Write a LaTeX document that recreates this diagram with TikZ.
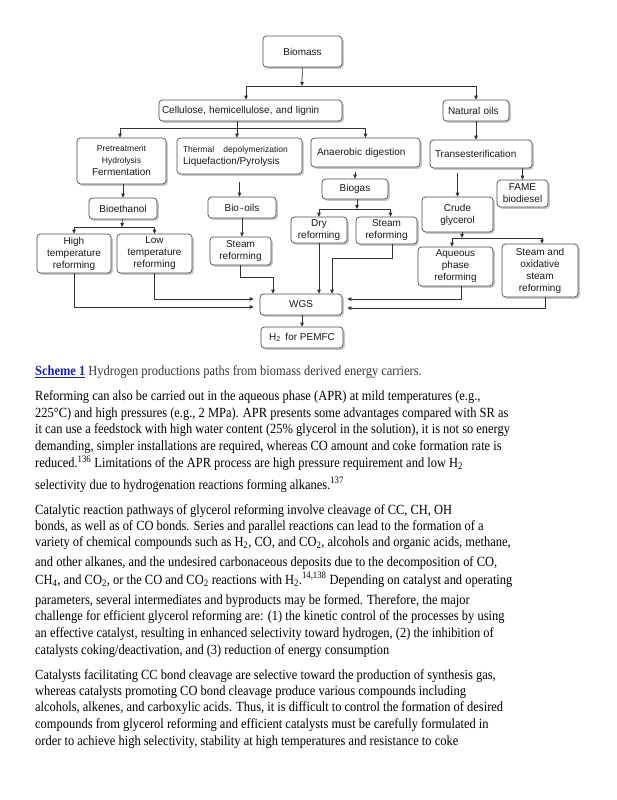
\documentclass[tikz,border=0pt]{standalone}
\usepackage{fontspec}
\setmainfont{Liberation Serif}[FakeStretch=0.89]
\newfontfamily\diagfont{Liberation Sans}
\usetikzlibrary{arrows.meta,shadows}
\definecolor{linkblue}{RGB}{16,32,208}
\definecolor{capgray}{RGB}{60,60,60}
\newcommand\diagsmall{\diagfont\fontsize{8.5}{10.5}\selectfont}
\newcommand\diagnorm{\diagfont\fontsize{10}{12}\selectfont}

\begin{document}
\begin{tikzpicture}[x=1pt,y=-1pt,
  box/.style={draw=black!70, fill=white, rounded corners=3.5pt, line width=0.7pt,
    drop shadow={shadow xshift=1.8pt, shadow yshift=-1.8pt, fill=black!22, opacity=1},
    inner sep=0pt, align=center, text=black!90, font=\diagnorm},
  arr/.style={-{Triangle[length=4pt,width=3.6pt]}, draw=black!80, line width=0.75pt},
  textline/.style={anchor=base west, inner sep=0pt, font=\fontsize{14}{17}\selectfont},
]
\useasboundingbox (0,0) rectangle (617,800);
\fill[white] (0,0) rectangle (617,800);

\node[box, minimum width=79pt, minimum height=31pt] (biomass) at (302.5,51.5) {Biomass};
\node[box, align=left, text width=177pt, inner xsep=3pt, minimum width=183pt, minimum height=21pt] (cellulose) at (250.5,110.5) {Cellulose, hemicellulose, and lignin};
\node[box, align=left, text width=56pt, inner xsep=5pt, minimum width=66pt, minimum height=21pt] (oils) at (476,110.5) {Natural oils};
\node[box, minimum width=89pt, minimum height=46pt] (pretreat) at (121.5,161) {\diagsmall Pretreatment\\\diagsmall Hydrolysis\\\diagnorm Fermentation};
\node[box, align=left, text width=113pt, inner xsep=6pt, minimum width=125pt, minimum height=36pt] (thermal) at (239.5,156) {\diagsmall Thermal\hspace{6pt} depolymerization\\\diagnorm Liquefaction/Pyrolysis};
\node[box, align=left, text width=97pt, inner xsep=6pt, minimum width=109pt, minimum height=29pt] (anaerobic) at (365.5,152.5) {Anaerobic digestion};
\node[box, align=left, text width=92pt, inner xsep=5pt, minimum width=102pt, minimum height=28pt] (transest) at (481,154) {Transesterification};
\node[box, minimum width=68pt, minimum height=21pt] (bioethanol) at (123,208.5) {Bioethanol};
\node[box, minimum width=68pt, minimum height=21pt] (biooils) at (242,207.5) {Bio\kern1pt-\kern1pt oils};
\node[box, minimum width=66pt, minimum height=20pt] (biogas) at (355,189) {Biogas};
\node[box, minimum width=71pt, minimum height=35pt] (glycerol) at (457.5,214.5) {Crude\\glycerol};
\node[box, minimum width=51pt, minimum height=27pt] (fame) at (522.5,193.5) {FAME\\biodiesel};
\node[box, minimum width=74pt, minimum height=39pt] (hightemp) at (74,253.5) {High\\temperature\\reforming};
\node[box, minimum width=75pt, minimum height=39pt] (lowtemp) at (154.5,253.5) {Low\\temperature\\reforming};
\node[box, minimum width=61pt, minimum height=28pt] (steamoil) at (240.5,251) {Steam\\reforming};
\node[box, minimum width=56pt, minimum height=26pt] (dryref) at (319,230) {Dry\\reforming};
\node[box, minimum width=61pt, minimum height=27pt] (steamgas) at (386.5,230.5) {Steam\\reforming};
\node[box, minimum width=75pt, minimum height=39pt] (aqueous) at (455.5,266.5) {Aqueous\\phase\\reforming};
\node[box, minimum width=76pt, minimum height=53pt] (oxsteam) at (540,270.5) {Steam and\\oxidative\\steam\\reforming};
\node[box, minimum width=82pt, minimum height=21pt] (wgs) at (301,304.5) {WGS};
\node[box, minimum width=82pt, minimum height=21pt] (htwo) at (302,337.5) {H\textsubscript{2}\hspace{2pt} for PEMFC};

\coordinate (j1) at (302,86);
\coordinate (j2) at (237,128);
\coordinate (j3) at (122,227);
\coordinate (j4) at (357,209);
\coordinate (j5) at (462,238);
\coordinate (ta) at ([yshift=-8pt]thermal.south);
\coordinate (ga) at ([yshift=7pt]biogas.north);
\coordinate (tg) at ([yshift=24pt]glycerol.north);

\draw[arr] (biomass) -- (j1);
\draw[arr] (j1) -| ([xshift=-4.5pt]cellulose.north);
\draw[arr] (j1) -| (oils.north);
\draw[arr] (cellulose.south -| j2) -- (thermal.north -| j2);
\draw[arr] (j2) -| ([xshift=-1.5pt]pretreat.north);
\draw[arr] (j2) -| (anaerobic.north);
\draw[arr] (oils) -- (oils |- transest.north);
\draw[arr] (pretreat.south -| bioethanol) -- (bioethanol);
\draw[arr] (ta) -- (ta |- biooils.north);
\draw[arr] (ga) -- (biogas.north);
\draw[arr] (tg) -- (glycerol.north);
\draw[arr] (transest.south -| fame.north) -- (fame.north);
\draw[arr] (bioethanol) -- (j3);
\draw[arr] (j3) -| (hightemp.north);
\draw[arr] (j3) -| (lowtemp.north);
\draw[arr] (biooils.south) -- (biooils.south |- steamoil.north);
\draw[arr] (biogas.south -| j4) -- (j4);
\draw[arr] (j4) -| (dryref.north);
\draw[arr] (j4) -| ([xshift=4pt]steamgas.north);
\draw[arr] (glycerol.south -| j5) -- (j5);
\draw[arr] (j5) -| ([xshift=-3.5pt]aqueous.north);
\draw[arr] (j5) -| ([xshift=2pt]oxsteam.north);
\draw[arr] (steamoil.south) -- ++(0,12) -| ([xshift=-28pt]wgs.north);
\draw[arr] (dryref.south) -- (dryref.south |- wgs.north);
\draw[arr] ([xshift=5.5pt]steamgas.south) -- ++(0,14) -| ([xshift=31pt]wgs.north);
\draw[arr, shorten >=6pt] (lowtemp.south) |- ([yshift=5.5pt]wgs.west);
\draw[arr, shorten >=6pt] (hightemp.south) |- ([yshift=-2.5pt]wgs.west);
\draw[arr, shorten >=5pt] ([xshift=5.5pt]aqueous.south) |- ([yshift=5.5pt]wgs.east);
\draw[arr, shorten >=5pt] ([xshift=5pt]oxsteam.south) |- ([yshift=-3.5pt]wgs.east);
\draw[arr] (wgs.south -| htwo.north) -- (htwo.north);

\node[textline] (cap) at (35,375.5) {\textcolor{linkblue}{\textbf{\underline{Scheme 1}}} \textcolor{capgray}{Hydrogen productions paths from biomass derived energy carriers.}};
\node[textline] (la1) at (35,400.5) {Reforming can also be carried out in the aqueous phase (APR) at mild temperatures (e.g.,};
\node[textline] (la2) at (35,417.2) {225°C) and high pressures (e.g., 2 MPa). APR presents some advantages compared with SR as};
\node[textline] (la3) at (35,433.9) {it can use a feedstock with high water content (25\% glycerol in the solution), it is not so energy};
\node[textline] (la4) at (35,450.6) {demanding, simpler installations are required, whereas CO amount and coke formation rate is};
\node[textline] (la5) at (35,467.3) {reduced.\textsuperscript{136} Limitations of the APR process are high pressure requirement and low H\textsubscript{2}};
\node[textline] (la6) at (35,489) {selectivity due to hydrogenation reactions forming alkanes.\textsuperscript{137}};
\node[textline] (lb1) at (35,514) {Catalytic reaction pathways of glycerol reforming involve cleavage of CC, CH, OH};
\node[textline] (lb2) at (35,530.7) {bonds, as well as of CO bonds. Series and parallel reactions can lead to the formation of a};
\node[textline] (lb3) at (35,546.3) {variety of chemical compounds such as H\textsubscript{2}, CO, and CO\textsubscript{2}, alcohols and organic acids, methane,};
\node[textline] (lb4) at (35,566.3) {and other alkanes, and the undesired carbonaceous deposits due to the decomposition of CO,};
\node[textline] (lb5) at (35,584) {CH\textsubscript{4}, and CO\textsubscript{2}, or the CO and CO\textsubscript{2} reactions with H\textsubscript{2}.\textsuperscript{14,138} Depending on catalyst and operating};
\node[textline] (lb6) at (35,604) {parameters, several intermediates and byproducts may be formed. Therefore, the major};
\node[textline] (lb7) at (35,620.7) {challenge for efficient glycerol reforming are: (1) the kinetic control of the processes by using};
\node[textline] (lb8) at (35,637.3) {an effective catalyst, resulting in enhanced selectivity toward hydrogen, (2) the inhibition of};
\node[textline] (lb9) at (35,654) {catalysts coking/deactivation, and (3) reduction of energy consumption};
\node[textline] (lc1) at (35,679) {Catalysts facilitating CC bond cleavage are selective toward the production of synthesis gas,};
\node[textline] (lc2) at (35,695.7) {whereas catalysts promoting CO bond cleavage produce various compounds including};
\node[textline] (lc3) at (35,711.7) {alcohols, alkenes, and carboxylic acids. Thus, it is difficult to control the formation of desired};
\node[textline] (lc4) at (35,728.3) {compounds from glycerol reforming and efficient catalysts must be carefully formulated in};
\node[textline] (lc5) at (35,745) {order to achieve high selectivity, stability at high temperatures and resistance to coke};
\end{tikzpicture}
\end{document}
